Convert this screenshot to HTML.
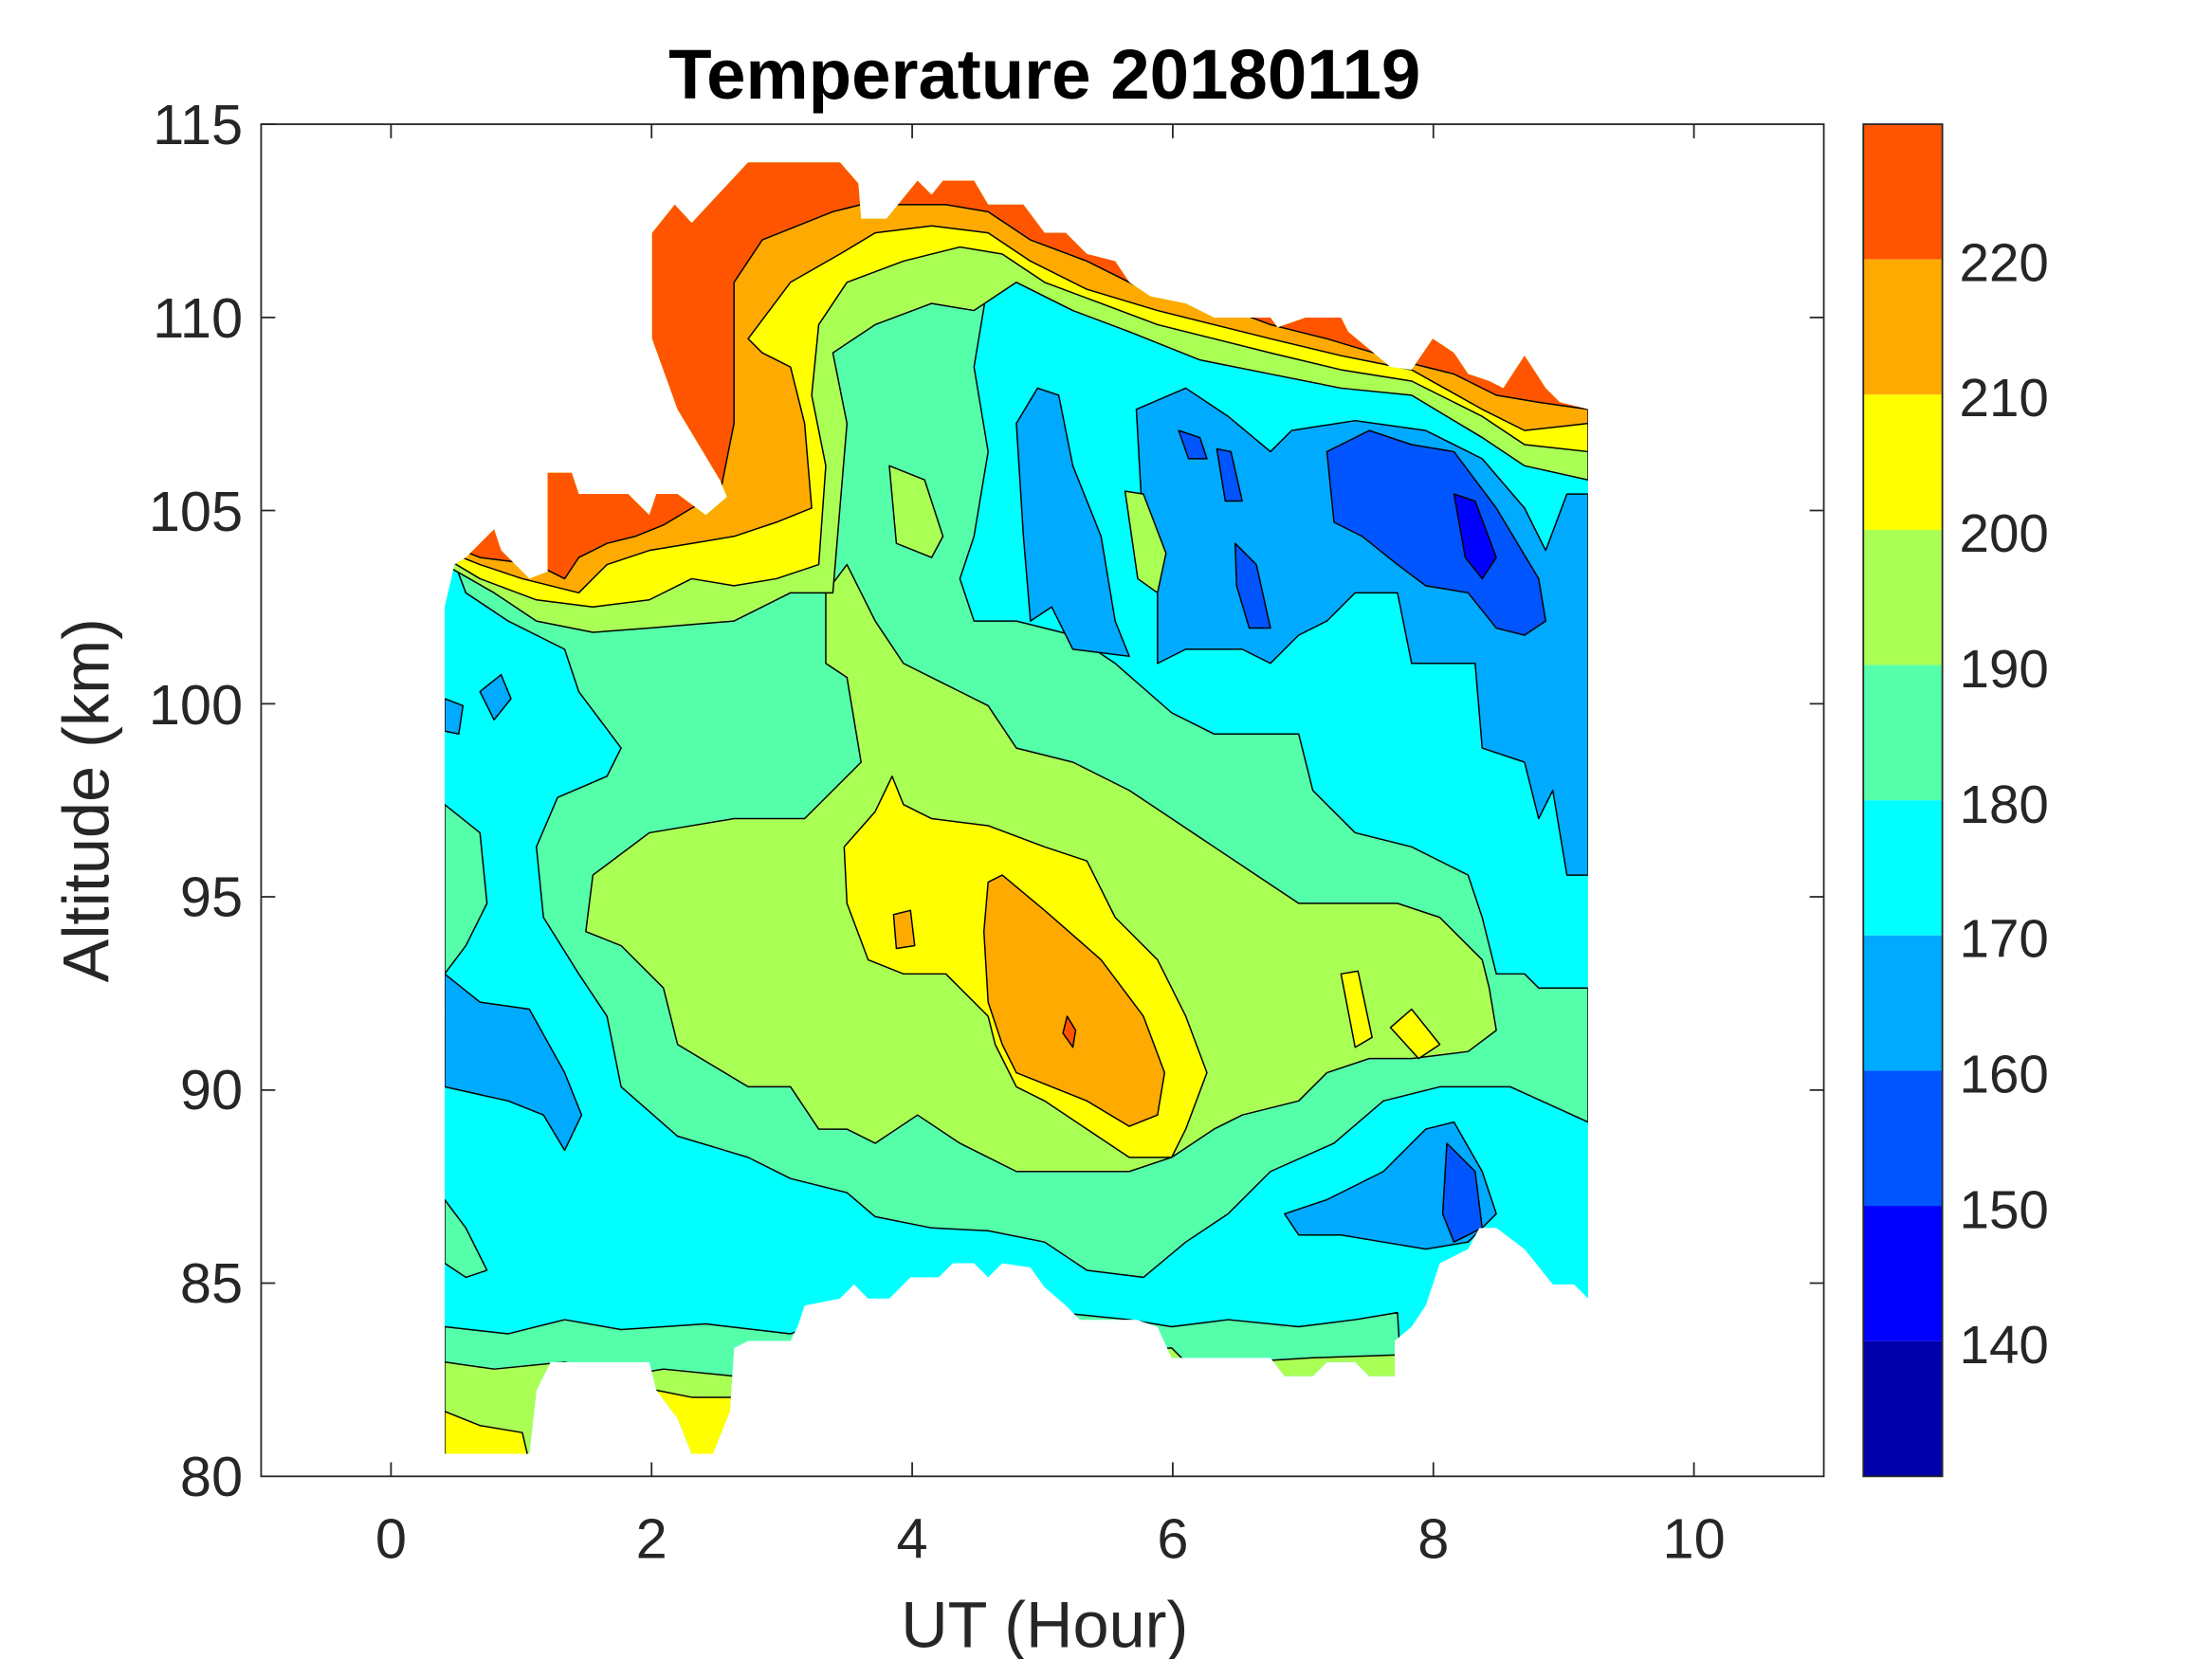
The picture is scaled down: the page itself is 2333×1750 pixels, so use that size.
<!DOCTYPE html>
<html><head><meta charset="utf-8"><style>html,body{margin:0;padding:0;background:#fff}svg{display:block}</style></head>
<body>
<svg width="2333" height="1750" viewBox="0 0 1567 1175.4" xmlns="http://www.w3.org/2000/svg" font-family="Liberation Sans, sans-serif">
<defs>
<clipPath id="d"><polygon points="315,1030 315,430 322,400 330,395 340,385 350,375 355,390 375,410 388,405 388,335 405,335 410,350 445,350 460,365 465,350 480,350 500,365 515,352 510,340 480,290 462,240 462,165 478,145 490,158 530,115 595,115 608,130 610,155 628,155 650,128 660,138 668,128 690,128 700,145 725,145 740,165 755,165 770,180 790,185 800,200 815,210 840,215 860,225 900,225 905,232 925,225 950,225 955,235 985,260 1000,262 1015,240 1030,250 1040,265 1055,270 1065,275 1080,252 1095,275 1105,285 1125,290 1125,920 1115,910 1100,910 1080,885 1060,870 1048,870 1040,885 1020,895 1010,925 1000,940 988,950 988,975 970,975 960,965 940,965 930,975 910,975 900,962 830,962 820,940 805,935 765,935 755,925 740,912 730,898 710,895 700,905 690,895 675,895 665,905 645,905 630,920 615,920 605,910 595,920 570,925 565,940 560,950 530,950 520,955 517,1000 505,1030 490,1030 480,1005 465,985 460,965 390,965 380,985 375,1030"/></clipPath>
</defs>
<g clip-path="url(#d)" stroke="#000" stroke-width="1" stroke-linejoin="round">
<rect x="300" y="100" width="850" height="950" fill="#00ffff" stroke="none"/>
<polygon fill="#55ffaa" points="315,380 330,420 360,440 380,450 400,460 410,490 440,530 430,550 395,565 380,600 385,650 410,690 430,720 440,770 480,805 530,820 560,835 600,845 620,862 660,870 700,872 740,880 770,900 810,905 840,880 870,860 900,830 945,810 980,780 1020,770 1070,770 1125,795 1125,700 1090,700 1080,690 1060,690 1050,650 1040,620 1000,600 960,590 930,560 920,520 860,520 830,505 790,470 760,450 720,440 690,440 680,410 690,380 700,320 690,260 700,200 720,190 700,130 560,130 480,150 460,170 315,170"/>
<polygon fill="#55ffaa" points="315,570 340,590 345,640 330,670 315,690"/>
<polygon fill="#55ffaa" points="315,850 330,870 345,900 330,905 315,895"/>
<polygon fill="#55ffaa" points="315,940 360,945 400,935 440,942 500,938 560,945 600,930 700,925 800,935 830,940 870,935 920,940 960,935 990,930 1000,1100 315,1100"/>
<polygon fill="#aaff55" points="315,965 350,970 400,965 440,975 470,970 520,975 830,955 840,965 880,965 930,962 990,960 990,1100 315,1100"/>
<polygon fill="#ffff00" points="315,1000 340,1010 370,1015 390,1100 315,1100"/>
<polygon fill="#ffff00" points="465,985 490,990 520,990 520,1100 465,1100"/>
<polygon fill="#aaff55" points="600,400 610,420 620,440 640,470 660,480 700,500 720,530 760,540 800,560 830,580 860,600 890,620 920,640 960,640 990,640 1020,650 1050,680 1055,700 1060,730 1040,745 1000,750 970,750 940,760 920,780 880,790 860,800 830,820 800,830 760,830 720,830 680,810 650,790 620,810 600,800 580,800 560,770 530,770 480,740 470,700 440,670 415,660 420,620 460,590 520,580 570,580 590,560 610,540 600,480 585,470 585,420"/>
<polygon fill="#aaff55" points="630,330 655,340 668,380 660,395 635,385"/>
<polygon fill="#ffff00" points="598,600 620,575 632,550 640,570 660,580 700,585 740,600 770,610 790,650 820,680 840,720 855,760 840,800 830,820 800,820 770,800 740,780 720,770 705,740 700,720 670,690 640,690 615,680 600,640"/>
<polygon fill="#ffaa00" points="700,625 710,620 740,645 780,680 810,720 825,760 820,790 800,798 770,780 745,770 720,760 710,740 700,710 697,660"/>
<polygon fill="#ffaa00" points="633,648 645,645 648,670 635,672"/>
<polygon fill="#ff5500" points="756,720 762,730 760,742 753,732"/>
<polygon fill="#ffff00" points="950,690 962,688 972,735 960,742"/>
<polygon fill="#ffff00" points="985,728 1000,715 1020,740 1005,750"/>
<polygon fill="#00aaff" points="720,300 735,275 750,280 760,330 780,380 790,440 800,465 760,460 745,430 730,440 725,380"/>
<polygon fill="#00aaff" points="805,290 840,275 870,295 900,320 915,305 960,298 1010,305 1050,325 1080,360 1095,390 1110,350 1125,350 1125,620 1110,620 1100,560 1090,580 1080,540 1050,530 1045,470 1020,470 1000,470 990,420 960,420 940,440 920,450 900,470 880,460 840,460 820,470 820,420 810,380"/>
<polygon fill="#aaff55" points="797,348 810,350 826,392 820,420 806,410"/>
<polygon fill="#0055ff" points="940,320 970,305 1000,315 1030,320 1060,360 1090,410 1095,440 1080,450 1060,445 1040,420 1010,415 990,400 965,380 945,370"/>
<polygon fill="#0055ff" points="875,385 890,400 900,445 885,445 876,415"/>
<polygon fill="#0055ff" points="835,305 850,310 855,325 842,325"/>
<polygon fill="#0055ff" points="862,318 872,320 880,355 868,355"/>
<polygon fill="#0000ff" points="1030,350 1045,355 1060,395 1050,410 1038,395"/>
<polygon fill="#00aaff" points="315,690 340,710 375,715 400,760 412,790 400,815 385,790 360,780 315,770"/>
<polygon fill="#00aaff" points="910,860 940,850 980,830 1010,800 1030,795 1050,830 1060,860 1040,880 1010,885 980,880 950,875 920,875"/>
<polygon fill="#0055ff" points="1025,810 1045,830 1050,870 1030,880 1022,860"/>
<polygon fill="#00aaff" points="340,490 355,478 362,495 350,510"/>
<polygon fill="#00aaff" points="315,495 328,500 325,520 315,518"/>
<polygon fill="#aaff55" points="315,0 1125,0 1125,340 1080,330 1050,310 1000,280 950,275 900,265 850,255 800,235 760,220 720,200 690,220 660,215 620,230 590,250 600,300 590,420 560,420 520,440 460,445 420,448 380,440 350,420 315,400"/>
<polygon fill="#ffff00" points="315,0 1125,0 1125,320 1080,315 1050,295 1000,270 950,262 900,250 860,240 820,230 780,215 740,200 710,180 680,175 640,185 600,200 580,230 575,280 585,330 580,400 550,410 520,415 490,410 460,425 420,430 380,425 340,410 315,395"/>
<polygon fill="#ffaa00" points="315,0 1125,0 1125,300 1080,305 1050,290 1000,262 950,252 900,240 860,230 820,220 770,205 730,185 700,165 660,160 620,165 595,180 560,200 530,240 540,250 560,260 570,300 575,360 550,370 520,380 490,385 460,390 430,400 410,420 370,410 340,400 315,390"/>
<polygon fill="#ff5500" points="315,0 1125,0 1125,290 1090,285 1060,280 1030,265 990,255 940,240 900,230 860,215 820,210 770,185 730,170 700,150 670,145 640,145 610,145 590,150 540,170 520,200 520,250 520,300 510,350 490,360 470,372 450,380 430,385 420,390 410,395 400,410 380,400 340,395 315,385"/>
</g>
<g stroke="#262626" stroke-width="1.2" fill="none">
<rect x="185" y="88" width="1107" height="958"/>
<path d="M277,1046v-10M461.6,1046v-10M646.2,1046v-10M830.8,1046v-10M1015.4,1046v-10M1200,1046v-10M277,88v10M461.6,88v10M646.2,88v10M830.8,88v10M1015.4,88v10M1200,88v10"/>
<path d="M185,88h10M185,224.9h10M185,361.7h10M185,498.6h10M185,635.4h10M185,772.3h10M185,909.1h10M1292,224.9h-10M1292,361.7h-10M1292,498.6h-10M1292,635.4h-10M1292,772.3h-10M1292,909.1h-10"/>
</g>
<g stroke="none">
<rect x="1320" y="88" width="56" height="95.8" fill="#ff5500"/>
<rect x="1320" y="183.8" width="56" height="95.8" fill="#ffaa00"/>
<rect x="1320" y="279.6" width="56" height="95.8" fill="#ffff00"/>
<rect x="1320" y="375.4" width="56" height="95.8" fill="#aaff55"/>
<rect x="1320" y="471.2" width="56" height="95.8" fill="#55ffaa"/>
<rect x="1320" y="567" width="56" height="95.8" fill="#00ffff"/>
<rect x="1320" y="662.8" width="56" height="95.8" fill="#00aaff"/>
<rect x="1320" y="758.6" width="56" height="95.8" fill="#0055ff"/>
<rect x="1320" y="854.4" width="56" height="95.8" fill="#0000ff"/>
<rect x="1320" y="950.2" width="56" height="95.8" fill="#0000aa"/>
</g>
<rect x="1320" y="88" width="56" height="958" fill="none" stroke="#262626" stroke-width="1.2"/>
<g fill="#262626" font-size="38">
<text x="1388" y="199">220</text><text x="1388" y="295">210</text><text x="1388" y="391">200</text><text x="1388" y="487">190</text><text x="1388" y="583">180</text><text x="1388" y="678">170</text><text x="1388" y="774">160</text><text x="1388" y="870">150</text><text x="1388" y="966">140</text>
</g>
<g fill="#262626" font-size="40" text-anchor="end">
<text x="172" y="102">115</text><text x="172" y="239">110</text><text x="172" y="376">105</text><text x="172" y="513">100</text><text x="172" y="649">95</text><text x="172" y="786">90</text><text x="172" y="923">85</text><text x="172" y="1060">80</text>
</g>
<g fill="#262626" font-size="40" text-anchor="middle">
<text x="277" y="1104">0</text><text x="461.6" y="1104">2</text><text x="646.2" y="1104">4</text><text x="830.8" y="1104">6</text><text x="1015.4" y="1104">8</text><text x="1200" y="1104">10</text>
<text x="740" y="1167" font-size="46">UT (Hour)</text>
<text transform="translate(77,567) rotate(-90)" font-size="46">Altitude (km)</text>
<text x="740" y="70" font-size="50" font-weight="bold" fill="#000">Temperature 20180119</text>
</g>
</svg>
</body></html>
